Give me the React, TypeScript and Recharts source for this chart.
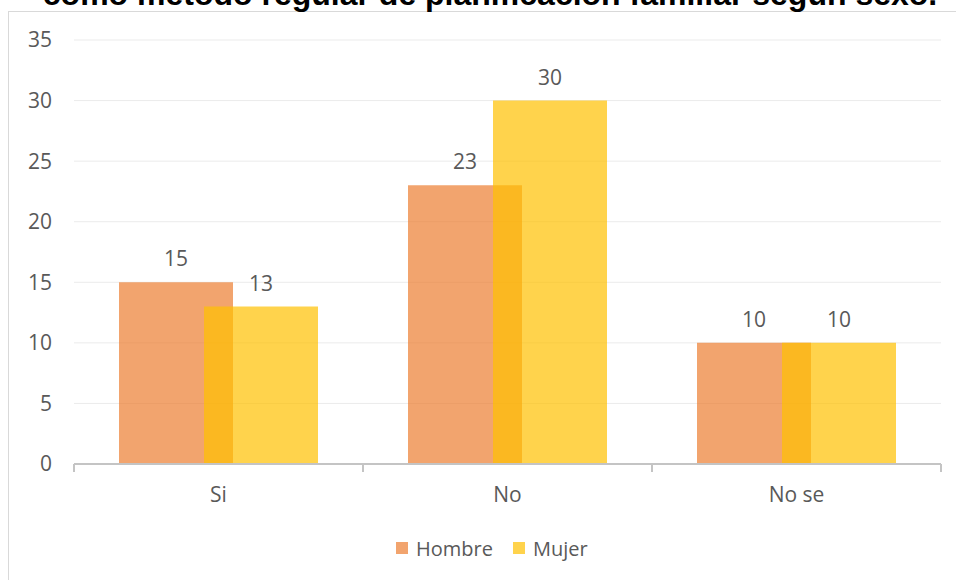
import { BarChart, Bar, XAxis, YAxis, CartesianGrid, Legend, LabelList } from "recharts"

const title = "como método regular de planificación familiar según sexo."
const categories = ["Si", "No", "No se"]
const hombre = [15, 23, 10]
const mujer = [13, 30, 10]
const yTicks = [0, 5, 10, 15, 20, 25, 30, 35]
const seriesNames = ["Hombre", "Mujer"]
const seriesColors = ["#ED7D31", "#FFC000"]

const data = categories.map((name, i) => ({
  name,
  Hombre: hombre[i],
  Mujer: mujer[i],
}))

const font = "'Open Sans', 'Noto Sans', sans-serif"
const textColor = "#595959"
const axisColor = "#C4C4C4"

const CategoryTick = (props: any) => {
  const { x, y, payload, index } = props
  const half = payload.offset || 0
  return (
    <g>
      <line x1={x - half} x2={x - half} y1={y} y2={y + 8} stroke={axisColor} strokeWidth={2} />
      {index === categories.length - 1 && (
        <line x1={x + half} x2={x + half} y1={y} y2={y + 8} stroke={axisColor} strokeWidth={2} />
      )}
      <text x={x} y={y + 38} textAnchor="middle" fill={textColor} fontSize={21} fontFamily={font}>
        {payload.value}
      </text>
    </g>
  )
}

const LegendBox = () => (
  <div style={{ display: "flex", alignItems: "center", height: 24, fontFamily: font, fontSize: 20, color: textColor }}>
    {seriesNames.map((name, i) => (
      <div key={name} style={{ display: "flex", alignItems: "center", marginRight: i === 0 ? 20 : 0 }}>
        <span style={{ width: 12, height: 12, background: seriesColors[i], opacity: 0.7, marginRight: 8, display: "inline-block" }} />
        <span>{name}</span>
      </div>
    ))}
  </div>
)

const App = () => {
  return (
    <div style={{ position: "absolute", left: 0, top: 0, width: 956, height: 580, overflow: "hidden", background: "#fff" }}>
      <div style={{ position: "absolute", left: 8, top: 11, width: 1100, height: 800, border: "1.5px solid #D9D9D9" }} />
      <svg width={956} height={20} style={{ position: "absolute", left: 0, top: 0 }}>
        <text x={490} y={5} textAnchor="middle" fontFamily="'Liberation Sans', Arial, sans-serif" fontWeight="bold" fontSize={32} fill="#000">
          {title}
        </text>
      </svg>
      <div style={{ position: "absolute", left: 0, top: 0 }}>
        <BarChart
          width={956}
          height={580}
          data={data}
          barSize={114}
          barGap={-29}
          margin={{ top: 40, right: 15, left: 0, bottom: 20 }}
        >
          <CartesianGrid vertical={false} stroke="#EBEBEB" strokeWidth={1} />
          <XAxis
            dataKey="name"
            height={72}
            axisLine={{ stroke: axisColor, strokeWidth: 2 }}
            tickLine={false}
            tickSize={0}
            tickMargin={0}
            tick={<CategoryTick />}
            interval={0}
          />
          <YAxis
            width={74}
            domain={[0, 35]}
            ticks={yTicks}
            axisLine={false}
            tickLine={false}
            tickSize={0}
            tickMargin={22}
            tick={{ fill: textColor, fontSize: 21, fontFamily: font }}
          />
          <Legend
            verticalAlign="bottom"
            content={<LegendBox />}
            wrapperStyle={{ left: 396, width: "auto", bottom: 20 }}
          />
          <Bar dataKey="Hombre" fill={seriesColors[0]} fillOpacity={0.7} isAnimationActive={false}>
            <LabelList dataKey="Hombre" position="top" offset={16} fill={textColor} fontSize={21} fontFamily={font} />
          </Bar>
          <Bar dataKey="Mujer" fill={seriesColors[1]} fillOpacity={0.7} isAnimationActive={false}>
            <LabelList dataKey="Mujer" position="top" offset={16} fill={textColor} fontSize={21} fontFamily={font} />
          </Bar>
        </BarChart>
      </div>
    </div>
  )
}

export default App
